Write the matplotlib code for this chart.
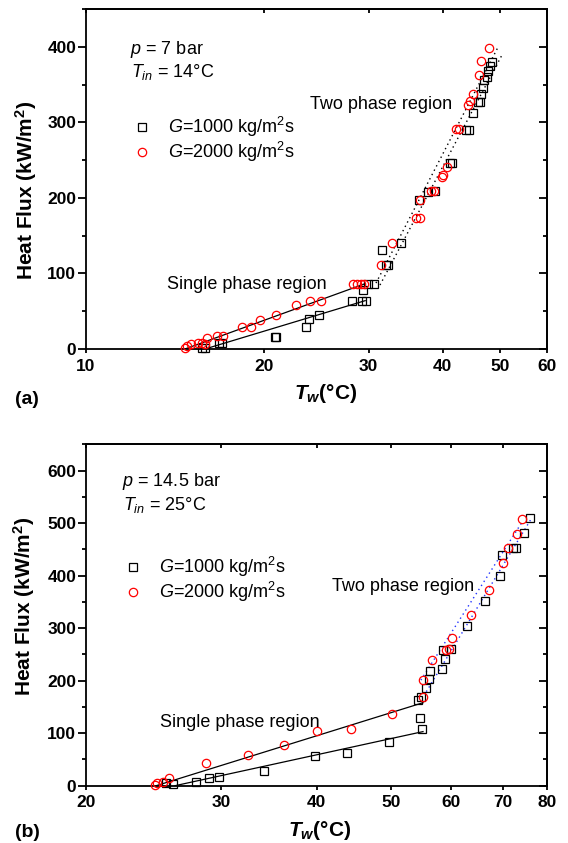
import matplotlib
matplotlib.use("Agg")
import matplotlib.pyplot as plt
from matplotlib.ticker import NullLocator, MultipleLocator, FixedLocator

plt.rcParams['font.family'] = ['Liberation Sans', 'DejaVu Sans']
plt.rcParams['mathtext.fontset'] = 'custom'
plt.rcParams['mathtext.rm'] = 'Liberation Sans'
plt.rcParams['mathtext.it'] = 'Liberation Sans:italic'
plt.rcParams['mathtext.bf'] = 'Liberation Sans:bold'
plt.rcParams['mathtext.bfit'] = 'Liberation Sans:bold:italic'

# ---------------- Panel (a): p = 7 bar ----------------
a_g1000_T = [15.7, 15.9, 16.8, 16.97, 20.82, 20.96, 23.56, 23.8, 24.75, 28.11, 29.19, 29.65,
             29.4, 29.95, 30.59, 31.6, 32.14, 32.36, 34.0, 36.48, 37.8, 38.76, 41.13, 41.42,
             43.8, 44.24, 45.07, 45.9, 46.16, 46.36, 46.81, 47.0, 47.48, 47.69, 48.16, 48.5]
a_g1000_q = [1.3, 1.0, 8.3, 8.0, 15.9, 15.9, 29.0, 39.3, 45.0, 63.0, 63.0, 63.0,
             78.6, 85.7, 85.7, 131.6, 111.7, 111.7, 140.8, 197.8, 208.0, 209.0, 246.8, 246.8,
             290.0, 290.0, 312.6, 327.0, 327.0, 337.0, 345.7, 355.8, 360.0, 367.8, 374.4, 379.2]

a_g2000_T = [14.69, 14.83, 15.04, 15.43, 15.72, 16.03, 15.9, 16.63, 17.01, 18.33, 19.01, 19.69,
             20.89, 22.64, 23.88, 24.88, 28.28, 28.68, 29.09, 29.42, 31.43, 32.88, 36.07, 36.6,
             36.6, 38.28, 38.72, 39.82, 40.1, 40.62, 42.13, 42.55, 44.2, 44.44, 45.08, 46.1,
             46.36, 47.96]
a_g2000_q = [1.0, 3.5, 6.0, 8.0, 8.0, 14.6, 7.0, 16.8, 16.8, 29.0, 29.0, 39.0,
             44.6, 57.8, 64.0, 64.0, 85.6, 85.6, 86.0, 86.5, 111.7, 140.8, 173.0, 173.0,
             197.0, 209.0, 209.0, 227.8, 230.0, 241.0, 291.8, 291.8, 323.6, 328.0, 338.0, 362.5,
             381.0, 397.8]

# fitted lines (end points)
a_sp_fit_2000_T = [14.69, 29.6]
a_sp_fit_2000_q = [0.0, 86.5]
a_sp_fit_1000_T = [15.88, 29.6]
a_sp_fit_1000_q = [0.0, 64.0]
a_tp_fit_1_T = [30.87, 49.6]
a_tp_fit_1_q = [87.3, 399.5]
a_tp_fit_2_T = [31.35, 50.36]
a_tp_fit_2_q = [84.7, 389.0]

a_xticks = [10, 20, 30, 40, 50, 60]
a_yticks = [0, 100, 200, 300, 400]

# ---------------- Panel (b): p = 14.5 bar ----------------
b_g1000_T = [25.44, 25.96, 27.83, 28.95, 29.87, 34.13, 39.84, 43.87, 49.78, 54.86, 54.62, 54.32,
             54.74, 55.52, 56.13, 56.25, 58.3, 58.56, 58.94, 59.92, 62.92, 66.49, 69.43, 69.96,
             72.14, 72.92, 74.69, 76.09]
b_g1000_q = [5.7, 2.7, 7.6, 14.1, 17.2, 28.3, 56.5, 61.6, 83.2, 107.3, 129.5, 163.2,
             169.5, 185.4, 202.5, 219.0, 221.6, 258.4, 240.6, 261.0, 304.0, 351.7, 400.0, 439.4,
             453.3, 453.3, 480.6, 510.5]

b_g2000_T = [24.6, 24.76, 25.22, 25.64, 28.66, 32.55, 36.29, 40.09, 44.38, 50.27, 55.15, 55.03,
             56.67, 59.06, 59.57, 60.16, 63.75, 67.14, 70.14, 71.14, 73.11, 74.15]
b_g2000_q = [1.3, 5.7, 6.3, 14.0, 42.5, 59.0, 77.5, 103.5, 108.6, 135.9, 169.5, 201.0,
             239.0, 258.4, 259.7, 281.9, 325.7, 372.7, 424.8, 452.0, 479.0, 508.6]

b_sp_fit_2000_T = [24.7, 55.1]
b_sp_fit_2000_q = [0.0, 158.0]
b_sp_fit_1000_T = [26.14, 55.1]
b_sp_fit_1000_q = [0.0, 103.0]
b_tp_fit_1_T = [54.75, 74.3]
b_tp_fit_1_q = [201.0, 502.9]
b_tp_fit_2_T = [55.65, 76.35]
b_tp_fit_2_q = [179.0, 509.0]

b_xticks = [20, 30, 40, 50, 60, 70, 80]
b_yticks = [0, 100, 200, 300, 400, 500, 600]

W, H = 568, 843
fig = plt.figure(figsize=(W / 100, H / 100), dpi=100)


def fx(px):
    return px / W


def fy(py):
    return 1 - py / H


ax1 = fig.add_axes([fx(86), fy(349), 461 / W, 340 / H])
ax2 = fig.add_axes([fx(86), fy(785.7), 461 / W, 341.4 / H])

LW = 1.3
TICKFS = 12.5


def style(ax, xticks, xlim, ylim, yticks):
    ax.set_xscale('log')
    ax.set_xlim(*xlim)
    ax.set_ylim(*ylim)
    ax.xaxis.set_major_locator(FixedLocator(xticks))
    ax.xaxis.set_minor_locator(NullLocator())
    ax.set_xticks(xticks, labels=[str(v) for v in xticks])
    ax.set_yticks(yticks, labels=[str(v) for v in yticks])
    ax.yaxis.set_minor_locator(MultipleLocator(50))
    for s in ax.spines.values():
        s.set_linewidth(LW)
    ax.tick_params(axis='x', which='both', direction='out', length=3.0, width=LW,
                   top=False, pad=4)
    ax.tick_params(axis='y', which='major', direction='out', length=6, width=LW,
                   right=False, pad=1)
    ax.tick_params(axis='y', which='minor', direction='out', length=3, width=LW,
                   right=False)
    for lab in ax.get_xticklabels() + ax.get_yticklabels():
        lab.set_fontsize(TICKFS)
        lab.set_fontweight('bold')
    # mirrored inward ticks on top and right
    top = ax.secondary_xaxis('top')
    top.set_xticks(xticks, labels=[])
    top.xaxis.set_minor_locator(NullLocator())
    top.tick_params(axis='x', which='both', direction='in', length=3.0, width=LW)
    top.spines['top'].set_linewidth(LW)
    right = ax.secondary_yaxis('right')
    right.set_yticks(yticks, labels=[])
    right.yaxis.set_minor_locator(MultipleLocator(50))
    right.tick_params(axis='y', which='major', direction='in', length=6, width=LW)
    right.tick_params(axis='y', which='minor', direction='in', length=3, width=LW)
    right.spines['right'].set_linewidth(LW)


style(ax1, a_xticks, (10, 60), (0, 450), a_yticks)
style(ax2, b_xticks, (20, 80), (0, 650), b_yticks)

SQ = dict(linestyle='none', marker='s', markersize=5.3, markerfacecolor='none',
          markeredgecolor='black', markeredgewidth=0.9)
CI = dict(linestyle='none', marker='o', markersize=6, markerfacecolor='none',
          markeredgecolor='red', markeredgewidth=0.9)

for ax, d in [(ax1, (a_g1000_T, a_g1000_q, a_g2000_T, a_g2000_q,
                     a_sp_fit_2000_T, a_sp_fit_2000_q, a_sp_fit_1000_T, a_sp_fit_1000_q,
                     a_tp_fit_1_T, a_tp_fit_1_q, a_tp_fit_2_T, a_tp_fit_2_q, 'black')),
              (ax2, (b_g1000_T, b_g1000_q, b_g2000_T, b_g2000_q,
                     b_sp_fit_2000_T, b_sp_fit_2000_q, b_sp_fit_1000_T, b_sp_fit_1000_q,
                     b_tp_fit_1_T, b_tp_fit_1_q, b_tp_fit_2_T, b_tp_fit_2_q, '#2233ff'))]:
    (t1, q1, t2, q2, s2t, s2q, s1t, s1q, f1t, f1q, f2t, f2q, dcol) = d
    ax.plot(s2t, s2q, color='black', lw=0.9, zorder=2)
    ax.plot(s1t, s1q, color='black', lw=0.9, zorder=2)
    ax.plot(f1t, f1q, color=dcol, lw=1.0, linestyle=(0, (1, 2.5)), zorder=2)
    ax.plot(f2t, f2q, color=dcol, lw=1.0, linestyle=(0, (1, 2.5)), zorder=2)
    h1, = ax.plot(t1, q1, label=r'$\it{G}$=1000 kg/m$^2$s', clip_on=False, zorder=3, **SQ)
    h2, = ax.plot(t2, q2, label=r'$\it{G}$=2000 kg/m$^2$s', clip_on=False, zorder=3, **CI)

LEGFS = 13
TXTFS = 13


def legend(ax, left_px, top_px):
    ax.legend(loc='upper left', bbox_to_anchor=(fx(left_px), fy(top_px)),
              bbox_transform=fig.transFigure, frameon=False, fontsize=LEGFS,
              handlelength=1.0, handletextpad=0.95, labelspacing=0.05,
              borderpad=0, borderaxespad=0, numpoints=1)


legend(ax1, 132.5, 115)
legend(ax2, 124, 555)

# panel (a) texts
fig.text(fx(130), fy(53.5), r'$\it{p}$ = 7 bar', fontsize=TXTFS, va='baseline')
fig.text(fx(131), fy(77), r'$\it{T}_{\it{in}}$ = 14°C', fontsize=TXTFS, va='baseline')
fig.text(fx(310), fy(109), 'Two phase region', fontsize=TXTFS, va='baseline')
fig.text(fx(166.7), fy(289), 'Single phase region', fontsize=TXTFS, va='baseline')
fig.text(fx(26), fy(190), r'Heat Flux (kW/m$^\mathbf{2}$)', fontsize=15, fontweight='bold',
         rotation=90, ha='center', va='center')
fig.text(fx(326), fy(399), r'$\mathbfit{T}_{\mathbfit{w}}$(°C)', fontsize=15,
         fontweight='bold', ha='center', va='baseline')
fig.text(fx(15), fy(404), '(a)', fontsize=14, fontweight='bold', ha='left', va='baseline')

# panel (b) texts
fig.text(fx(121.5), fy(486), r'$\it{p}$ = 14.5 bar', fontsize=TXTFS, va='baseline')
fig.text(fx(123), fy(510), r'$\it{T}_{\it{in}}$ = 25°C', fontsize=TXTFS, va='baseline')
fig.text(fx(332), fy(590.7), 'Two phase region', fontsize=TXTFS, va='baseline')
fig.text(fx(160), fy(727.3), 'Single phase region', fontsize=TXTFS, va='baseline')
fig.text(fx(24.5), fy(606.7), r'Heat Flux (kW/m$^\mathbf{2}$)', fontsize=15, fontweight='bold',
         rotation=90, ha='center', va='center')
fig.text(fx(320), fy(836), r'$\mathbfit{T}_{\mathbfit{w}}$(°C)', fontsize=15,
         fontweight='bold', ha='center', va='baseline')
fig.text(fx(15), fy(837), '(b)', fontsize=14, fontweight='bold', ha='left', va='baseline')

fig.savefig('out.png', dpi=100)
